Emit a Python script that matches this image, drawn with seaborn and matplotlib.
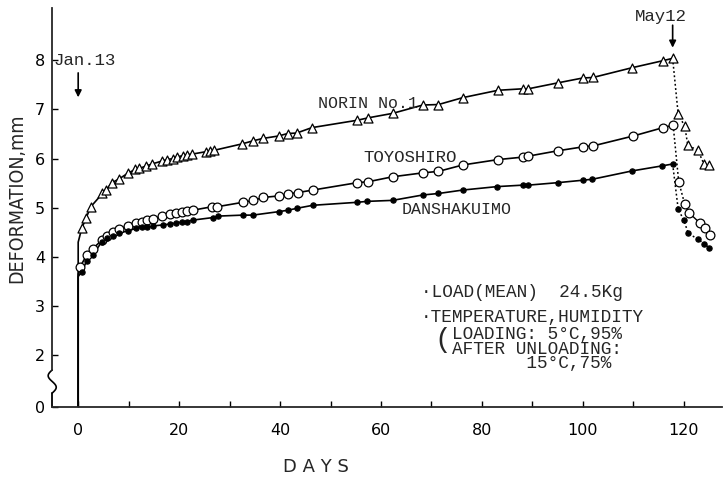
import numpy as np
import pandas as pd
import matplotlib
matplotlib.use('Agg')
import matplotlib.pyplot as plt
import seaborn as sns

# --- data (days after loading, deformation in mm) ---
norin_days = [0.7, 1.6, 2.5, 4.8, 5.5, 6.7, 8.0, 9.8, 11.3, 12.1, 13.5, 14.6, 16.6, 17.6, 18.8,
              19.5, 20.7, 21.6, 22.5, 25.3, 26.1, 27.0, 32.5, 34.6, 36.6, 39.7, 41.5, 43.3, 46.3,
              55.3, 57.5, 62.3, 68.3, 71.4, 76.2, 83.2, 88.1, 89.2, 95.0, 100.0, 102.0, 109.8,
              115.8, 117.8]
norin_vals = [4.58, 4.80, 5.02, 5.29, 5.36, 5.51, 5.58, 5.70, 5.78, 5.80, 5.85, 5.89, 5.95, 5.98, 6.00,
              6.03, 6.06, 6.08, 6.09, 6.14, 6.16, 6.17, 6.30, 6.36, 6.41, 6.46, 6.51, 6.52, 6.63,
              6.78, 6.83, 6.92, 7.09, 7.10, 7.24, 7.39, 7.42, 7.42, 7.54, 7.64, 7.65, 7.85,
              7.99, 8.04]
norin_start = 4.30
norin_off_days = [118.9, 120.2, 120.8, 122.8, 124.0, 125.0]
norin_off_vals = [6.90, 6.66, 6.27, 6.17, 5.89, 5.87]

toyo_days = [0.4, 1.7, 2.9, 4.7, 5.7, 6.9, 8.0, 9.8, 11.5, 12.6, 13.6, 14.8, 16.6, 18.2, 19.4,
             20.5, 21.5, 22.7, 26.5, 27.5, 32.6, 34.7, 36.7, 39.7, 41.6, 43.6, 46.5, 55.3, 57.5,
             62.3, 68.3, 71.4, 76.2, 83.2, 88.1, 89.2, 95.1, 100.1, 102.1, 110.0, 115.9, 117.9]
toyo_vals = [3.80, 4.04, 4.17, 4.34, 4.43, 4.50, 4.56, 4.63, 4.69, 4.71, 4.75, 4.77, 4.83, 4.87, 4.90,
             4.91, 4.93, 4.95, 5.02, 5.02, 5.11, 5.15, 5.21, 5.24, 5.28, 5.31, 5.36, 5.51, 5.53,
             5.63, 5.71, 5.74, 5.87, 5.98, 6.03, 6.05, 6.16, 6.24, 6.26, 6.46, 6.63, 6.68]
toyo_start = 3.65
toyo_off_days = [119.0, 120.2, 121.0, 123.2, 124.2, 125.3]
toyo_off_vals = [5.53, 5.07, 4.90, 4.69, 4.58, 4.44]

dansh_days = [0.7, 1.7, 2.9, 4.7, 5.7, 6.9, 8.0, 9.8, 11.5, 12.6, 13.7, 14.8, 16.8, 18.2, 19.4,
              20.5, 21.5, 22.8, 26.7, 27.7, 32.6, 34.6, 39.7, 41.6, 43.4, 46.5, 55.2, 57.3, 62.3,
              68.3, 71.4, 76.2, 83.0, 88.1, 89.2, 95.0, 100.0, 101.9, 109.8, 115.6, 117.8]
dansh_vals = [3.70, 3.92, 4.04, 4.31, 4.38, 4.42, 4.48, 4.53, 4.58, 4.60, 4.60, 4.63, 4.65, 4.67, 4.69,
              4.71, 4.72, 4.75, 4.80, 4.83, 4.85, 4.85, 4.92, 4.95, 4.99, 5.05, 5.11, 5.13, 5.15,
              5.26, 5.29, 5.36, 5.43, 5.46, 5.46, 5.51, 5.56, 5.58, 5.75, 5.85, 5.89]
dansh_start = 3.60
dansh_off_days = [118.9, 120.0, 120.9, 122.8, 124.0, 125.0]
dansh_off_vals = [4.97, 4.75, 4.48, 4.36, 4.27, 4.19]

x_ticks = list(range(0, 121, 10))
x_labels = ['0', '', '20', '', '40', '', '60', '', '80', '', '100', '', '120']
y_ticks = [0, 2, 3, 4, 5, 6, 7, 8]
y_labels = ['0', '2', '3', '4', '5', '6', '7', '8']
unload_day = 117.8


# broken y axis: 0..2 squeezed
def disp(v):
    v = np.asarray(v, dtype=float)
    return np.where(v < 2, 2 - (2 - v) * 0.525, v)


sns.set_style('ticks')
plt.rcParams['font.family'] = ['DejaVu Sans']

fig = plt.figure(figsize=(7.25, 4.82), dpi=100)
ax = fig.add_axes([0.072, 0.156, 0.924, 0.827])

mono = 'Liberation Mono'

series = [
    (norin_days, norin_vals, norin_start, norin_off_days, norin_off_vals, '^', 42, 'white'),
    (toyo_days, toyo_vals, toyo_start, toyo_off_days, toyo_off_vals, 'o', 40, 'white'),
    (dansh_days, dansh_vals, dansh_start, dansh_off_days, dansh_off_vals, 'o', 14, 'black'),
]

for days, vals, start, off_d, off_v, mk, size, face in series:
    # loading curve (starts with the instant deformation at day 0)
    lx = [0, 0] + days
    ly = list(disp([0, start])) + vals
    sns.lineplot(x=lx, y=ly, ax=ax, estimator=None, sort=False,
                 color='black', lw=1.2, zorder=2)
    # after unloading
    ux = [days[-1]] + off_d
    uy = [vals[-1]] + off_v
    if mk == 'o' and face == 'white':
        sns.lineplot(x=ux[:3], y=uy[:3], ax=ax, estimator=None, sort=False,
                     color='black', lw=1.1, ls=(0, (1.2, 1.6)), zorder=2)
        sns.lineplot(x=ux[2:], y=uy[2:], ax=ax, estimator=None, sort=False,
                     color='black', lw=1.0, zorder=2)
    else:
        sns.lineplot(x=ux, y=uy, ax=ax, estimator=None, sort=False,
                     color='black', lw=1.1, ls=(0, (1.2, 1.6)), zorder=2)
    sns.scatterplot(x=days + off_d, y=vals + off_v, ax=ax, marker=mk, s=size,
                    facecolor=face, edgecolor='black', linewidth=0.9, zorder=3)

ax.set_xlim(-5.15, 127.6)
ax.set_ylim(0.95, 9.06)

ax.set_xticks(x_ticks)
ax.set_xticklabels(x_labels)
ax.set_yticks(disp(y_ticks))
ax.set_yticklabels(y_labels)
ax.tick_params(direction='in', length=4, width=1.0, labelsize=11.5, colors='black')
ax.tick_params(axis='x', pad=12)
ax.tick_params(axis='y', pad=5)

for s in ['top', 'right']:
    ax.spines[s].set_visible(False)
ax.spines['bottom'].set_linewidth(1.3)
ax.spines['left'].set_linewidth(1.3)
ax.spines['left'].set_bounds(1.70, 9.06)

# squiggle for the axis break
t = np.linspace(0, 1, 60)
trans = matplotlib.transforms.blended_transform_factory(ax.transAxes, ax.transData)
ax.plot(-0.006 * np.sin(2 * np.pi * t), 1.70 - 0.47 * t, color='black', lw=1.2,
        transform=trans, clip_on=False)
ax.plot([0, 0], [0.95, 1.23], color='black', lw=1.3, transform=trans, clip_on=False)

ax.set_xlabel('D A Y S', fontsize=13)
ax.xaxis.set_label_coords(0.393, -0.128)
ax.set_ylabel('DEFORMATION,mm', fontsize=14, fontstretch='condensed')
ax.yaxis.set_label_coords(-0.038, 0.524)

# dates and arrows
ax.text(-4.9, 8.0, 'Jan.13', fontsize=12.5, family=mono, va='center', ha='left')
ax.annotate('', xy=(0, 7.19), xytext=(0, 7.8),
            arrowprops=dict(arrowstyle='-|>', color='black', lw=1.2, mutation_scale=10))
ax.text(115.4, 8.89, 'May12', fontsize=12.5, family=mono, va='center', ha='center')
ax.annotate('', xy=(unload_day, 8.2), xytext=(unload_day, 8.77),
            arrowprops=dict(arrowstyle='-|>', color='black', lw=1.2, mutation_scale=10))

# curve names
ax.text(57.4, 7.13, 'NORIN No.1', fontsize=12, family=mono, ha='center', va='center')
ax.text(65.7, 6.03, 'TOYOSHIRO', fontsize=12.5, family=mono, ha='center', va='center')
ax.text(74.9, 4.97, 'DANSHAKUIMO', fontsize=12, family=mono, ha='center', va='center')

# conditions
ax.text(67.9, 3.28, '\u00b7LOAD(MEAN)  24.5Kg', fontsize=12.8, family=mono, va='center')
ax.text(67.9, 2.76, '\u00b7TEMPERATURE,HUMIDITY', fontsize=12.8, family=mono, va='center')
ax.text(73.9, 2.30, '(', fontsize=20, family=mono, va='center', ha='right')
ax.text(74.1, 2.59, 'LOADING: 5\u00b0C,95%\nAFTER UNLOADING:\n       15\u00b0C,75%',
        fontsize=12.8, family=mono, va='top', linespacing=0.8)

fig.savefig('out.png', dpi=100)
